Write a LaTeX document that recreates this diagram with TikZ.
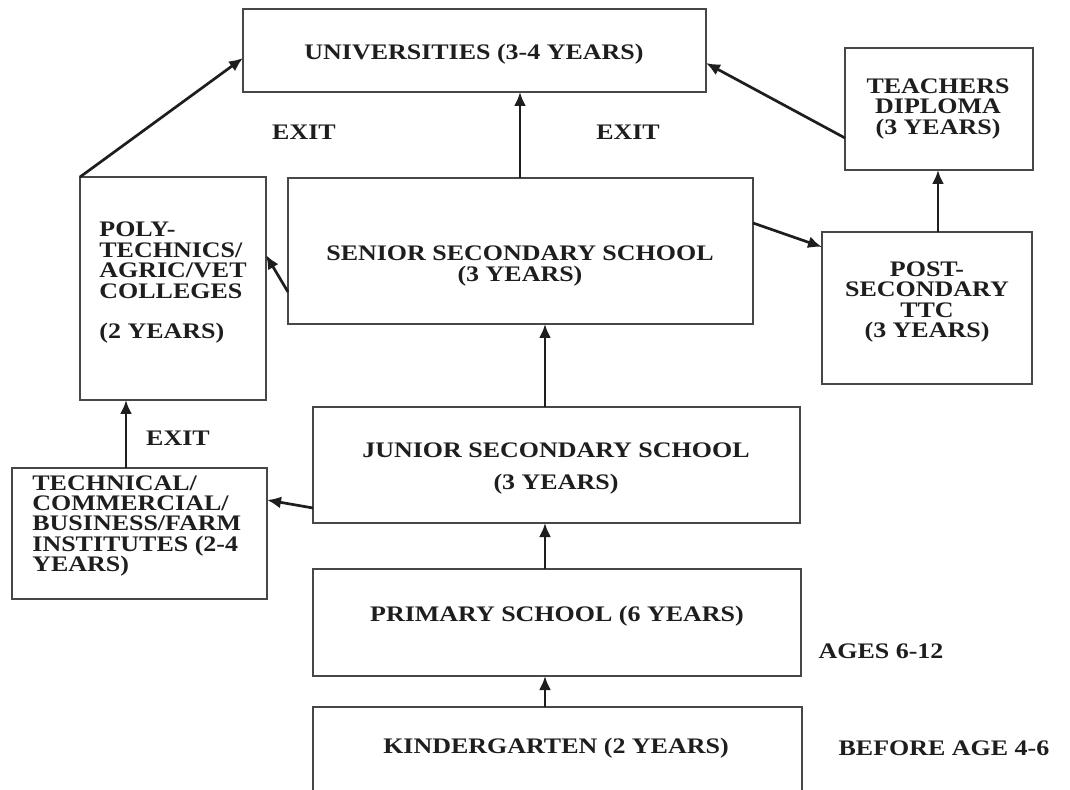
\documentclass[tikz,border=0pt]{standalone}
\usepackage{fontspec}
\setmainfont{Liberation Serif}[FakeStretch=1.17]
\usetikzlibrary{arrows.meta}
\definecolor{ink}{HTML}{1E1E1E}
\definecolor{edge}{HTML}{474747}
\tikzset{
  box/.style={draw=edge, line width=1.1pt, rectangle, inner sep=0pt, outer sep=0pt, fill=none},
  lbl/.style={text=ink, inner sep=0pt, font=\fontsize{11.1}{10.2}\selectfont\bfseries},
  arr/.style={draw=ink, line width=1.35pt, -{Latex[length=7pt,width=6pt]}},
}
\begin{document}
\begin{tikzpicture}[x=0.5pt,y=-0.5pt]
\useasboundingbox (0,0) rectangle (1070,790);
\clip (0,0) rectangle (1070,790);
\fill[white] (0,0) rectangle (1070,790);
% boxes
\node[box, minimum width=231.5pt, minimum height=41.5pt] (uni) at (474.5,50.5) {};
\node[box, minimum width=94pt, minimum height=61pt] (teach) at (939,109) {};
\node[box, minimum width=93pt, minimum height=111.5pt] (poly) at (173,288.5) {};
\node[box, minimum width=232.5pt, minimum height=73pt] (senior) at (520.5,251) {};
\node[box, minimum width=105pt, minimum height=76pt] (post) at (927,308) {};
\node[box, minimum width=243.5pt, minimum height=58pt] (junior) at (556.5,465) {};
\node[box, minimum width=127.5pt, minimum height=65.5pt] (tech) at (139.5,533.5) {};
\node[box, minimum width=244pt, minimum height=53.5pt] (primary) at (557,622.5) {};
\node[box, minimum width=244.5pt, minimum height=46.5pt] (kinder) at (557.5,753.5) {};
% texts
\node[lbl] (uniT) at (474,54) {UNIVERSITIES (3-4 YEARS)};
\node[lbl, align=center] (teachT) at (938,109) {TEACHERS\\DIPLOMA\\(3 YEARS)};
\node[lbl, align=left, anchor=west] (polyT) at (99,283) {POLY-\\TECHNICS/\\AGRIC/VET\\COLLEGES\\[10.2pt](2 YEARS)};
\node[lbl, align=center] (seniorT) at (520,266) {SENIOR SECONDARY SCHOOL\\(3 YEARS)};
\node[lbl, align=center] (postT) at (927,302) {POST-\\SECONDARY\\TTC\\(3 YEARS)};
\node[lbl, align=center] (juniorT) at (556,469) {JUNIOR SECONDARY SCHOOL\\[5.8pt](3 YEARS)};
\node[lbl, align=left, anchor=west] (techT) at (32,526) {TECHNICAL/\\COMMERCIAL/\\BUSINESS/FARM\\INSTITUTES (2-4\\YEARS)};
\node[lbl] (primaryT) at (557,616) {PRIMARY SCHOOL (6 YEARS)};
\node[lbl] (kinderT) at (556,748) {KINDERGARTEN (2 YEARS)};
\node[lbl] (exit1) at (304,132) {EXIT};
\node[lbl] (exit2) at (628,132) {EXIT};
\node[lbl] (exit3) at (178,438) {EXIT};
\node[lbl] (ages) at (881,651) {AGES 6-12};
\node[lbl] (before) at (944,748) {BEFORE AGE 4-6};
% connectors
\draw[arr] (poly.north west) -- (uni.west |- 0,58);
\draw[arr] (senior.north -| 520,0) -- (uni.south -| 520,0);
\draw[arr] (teach.west |- 0,138) -- (uni.east |- 0,63);
\draw[arr] (senior.east |- 0,223) -- (post.west |- 0,247);
\draw[arr] (senior.west |- 0,292) -- (poly.east |- 0,255);
\draw[arr] (post.north -| 938,0) -- (teach.south -| 938,0);
\draw[arr] (junior.north -| 545,0) -- (senior.south -| 545,0);
\draw[arr] (tech.north -| 126,0) -- (poly.south -| 126,0);
\draw[arr] (junior.west |- 0,508) -- (tech.east |- 0,500);
\draw[arr] (primary.north -| 545,0) -- (junior.south -| 545,0);
\draw[arr] (kinder.north -| 545,0) -- (primary.south -| 545,0);
\end{tikzpicture}
\end{document}
